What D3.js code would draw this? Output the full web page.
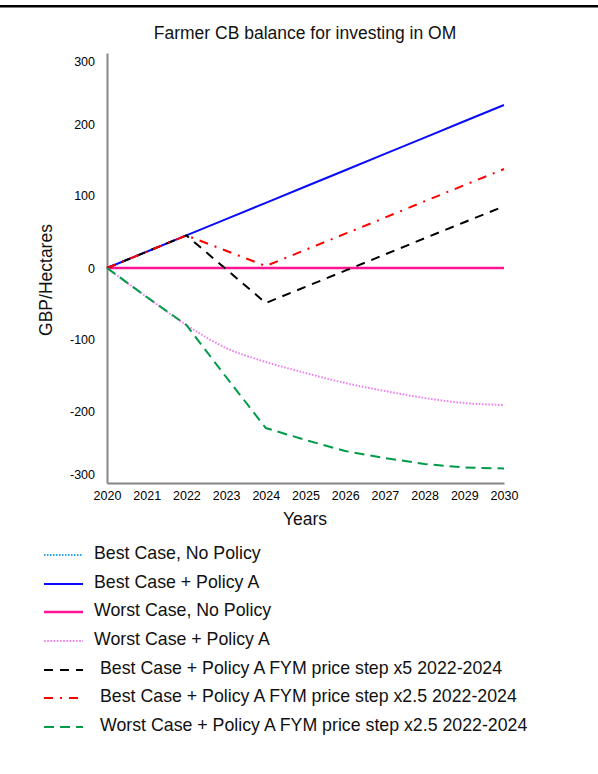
<!DOCTYPE html>
<html>
<head>
<meta charset="utf-8">
<script src="https://cdn.jsdelivr.net/npm/d3@7"></script>
<style>
  html, body { margin: 0; padding: 0; background: #fff; }
  svg { display: block; font-family: "Liberation Sans", Arial, sans-serif; }
</style>
</head>
<body>
<svg id="chart" width="598" height="774"></svg>
<script>
// Years on the horizontal axis
const years = [2020, 2021, 2022, 2023, 2024, 2025, 2026, 2027, 2028, 2029, 2030];

// Series values (GBP/Hectares)
const bestNoPolicy   = [0, 0, 0, 0, 0, 0, 0, 0, 0, 0, 0];
const bestPolicyA    = [0, 22.3, 44.7, 67.0, 89.3, 112.0, 134.9, 157.9, 180.8, 204.3, 230.2];
const worstNoPolicy  = [0, 0, 0, 0, 0, 0, 0, 0, 0, 0, 0];
const worstPolicyA   = [0, -40.8, -80.3, -112.5, -131.9, -147.2, -161.1, -172.2, -181.9, -188.9, -191.7];
const bestFym5       = [0, 22.3, 44.7, -1.7, -49.3, -26.5, -3.8, 18.5, 40.7, 62.7, 84.5];
const bestFym25      = [0, 22.3, 44.7, 23.7, 2.7, 24.9, 47.0, 69.0, 91.4, 113.8, 136.6];
const worstFym25     = [0, -40.8, -80.3, -152.8, -227.0, -246.0, -263.5, -274.6, -284.1, -289.7, -291.3];

// Axis tick labels
const yTicks = [-300, -200, -100, 0, 100, 200, 300];
const xTicks = years;

// Legend labels
const seriesNames = [
  "Best Case, No Policy",
  "Best Case + Policy A",
  "Worst Case, No Policy",
  "Worst Case + Policy A",
  "Best Case + Policy A FYM price step x5 2022-2024",
  "Best Case + Policy A FYM price step x2.5 2022-2024",
  "Worst Case + Policy A FYM price step x2.5 2022-2024"
];
const seriesValues = [bestNoPolicy, bestPolicyA, worstNoPolicy, worstPolicyA, bestFym5, bestFym25, worstFym25];

// Line styles for each series
const styles = [
  { color: "#2aa6f5", width: 2,   dash: "1.5,1.5", curve: d3.curveLinear },
  { color: "#0a0aff", width: 2,   dash: null,      curve: d3.curveLinear },
  { color: "#ff1493", width: 2.5, dash: null,      curve: d3.curveLinear },
  { color: "#f080f0", width: 2,   dash: "1.6,1.6", curve: d3.curveMonotoneX },
  { color: "#000000", width: 2,   dash: "9,7",     curve: d3.curveLinear },
  { color: "#ff0000", width: 2,   dash: "9,7,2,7", curve: d3.curveLinear },
  { color: "#009a48", width: 2,   dash: "10,6",    curve: d3.curveLinear }
];

const svg = d3.select("#chart");

// Top rule
svg.append("rect").attr("x", 0).attr("y", 5).attr("width", 598).attr("height", 2.5).attr("fill", "#000");

// Scales
const x = d3.scaleLinear().domain([2020, 2030]).range([107, 504]);
const y = d3.scaleLinear()
  .domain([-314, -300, -200, -100, 0, 100, 200, 300, 313])
  .range([483, 474, 411, 339, 268, 195, 124, 61, 53]);

// Title
svg.append("text")
  .attr("x", 305).attr("y", 33).attr("dy", "0.35em")
  .attr("text-anchor", "middle")
  .attr("font-size", 17.5).attr("fill", "#111")
  .text("Farmer CB balance for investing in OM");

// Axes (no tick marks, plain hyphen minus)
const plain = d => String(d);
const yAxis = svg.append("g")
  .attr("transform", `translate(${x(2020)},0)`)
  .call(d3.axisLeft(y).tickValues(yTicks).tickSize(0).tickPadding(12).tickFormat(plain));
const xAxis = svg.append("g")
  .attr("transform", `translate(0,${y(-314)})`)
  .call(d3.axisBottom(x).tickValues(xTicks).tickSize(0).tickPadding(8).tickFormat(plain));

[yAxis, xAxis].forEach(g => {
  g.select(".domain").attr("stroke", "#858585").attr("stroke-width", 2);
  g.selectAll("text").attr("font-size", 12.5).attr("fill", "#000")
    .attr("font-family", "Liberation Sans, Arial, sans-serif");
});

// Axis titles
svg.append("text")
  .attr("x", 305).attr("y", 519).attr("dy", "0.35em")
  .attr("text-anchor", "middle").attr("font-size", 17.5).attr("fill", "#111")
  .text("Years");
svg.append("text")
  .attr("transform", "translate(46,280) rotate(-90)")
  .attr("dy", "0.35em")
  .attr("text-anchor", "middle").attr("font-size", 17.5).attr("fill", "#111")
  .text("GBP/Hectares");

// Series lines
seriesValues.forEach((vals, i) => {
  const st = styles[i];
  const line = d3.line().x((d, j) => x(years[j])).y(d => y(d)).curve(st.curve);
  svg.append("path")
    .datum(vals)
    .attr("d", line)
    .attr("fill", "none")
    .attr("stroke", st.color)
    .attr("stroke-width", st.width)
    .attr("stroke-dasharray", st.dash);
});

// Legend
const legendRows = [555, 584, 612, 641, 670, 698, 727];
const legendTextX = [94, 94, 94, 94, 100, 100, 100];
const legend = svg.append("g");
seriesNames.forEach((name, i) => {
  const st = styles[i];
  legend.append("line")
    .attr("x1", 44).attr("x2", 83)
    .attr("y1", legendRows[i]).attr("y2", legendRows[i])
    .attr("stroke", st.color).attr("stroke-width", st.width)
    .attr("stroke-dasharray", st.dash);
  legend.append("text")
    .attr("x", legendTextX[i]).attr("y", legendRows[i] - 2.5).attr("dy", "0.35em")
    .attr("font-size", 17.75).attr("fill", "#111")
    .text(name);
});
</script>
</body>
</html>
